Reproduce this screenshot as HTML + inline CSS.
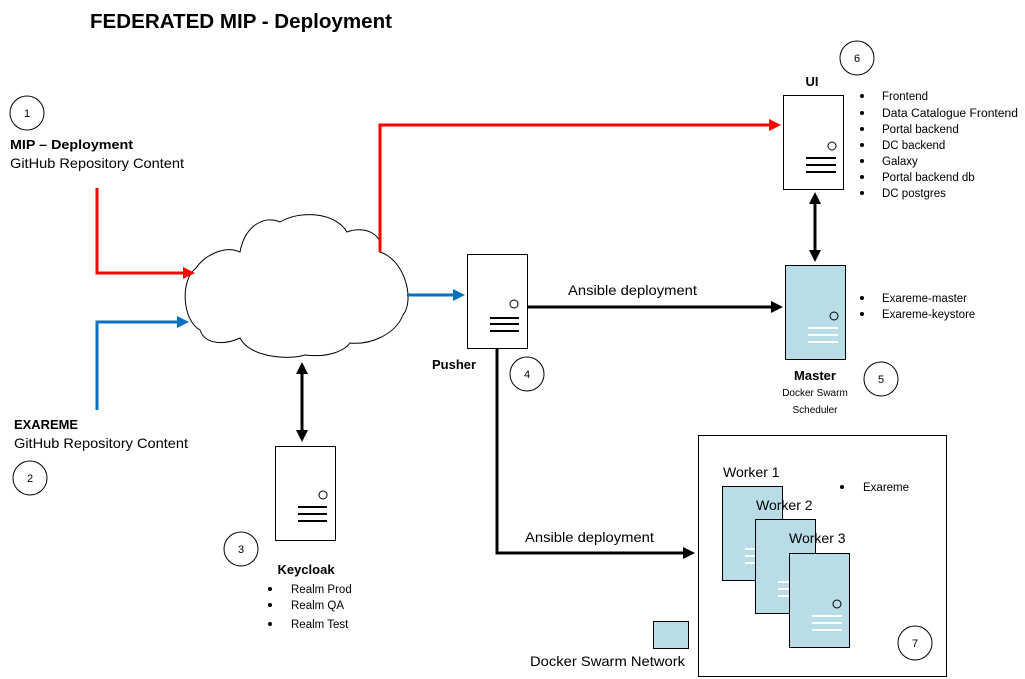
<!DOCTYPE html>
<html><head><style>body{margin:0;background:#fff}svg{display:block}text{font-family:"Liberation Sans",sans-serif;fill:#000}</style></head>
<body>
<svg width="1025" height="679" viewBox="0 0 1025 679" xmlns="http://www.w3.org/2000/svg">
<defs>
<marker id="ar" markerWidth="4" markerHeight="4" refX="3" refY="2" orient="auto" markerUnits="strokeWidth"><path d="M0,0 L4,2 L0,4 z" fill="red"/></marker>
<marker id="ab" markerWidth="4" markerHeight="4" refX="3" refY="2" orient="auto" markerUnits="strokeWidth"><path d="M0,0 L4,2 L0,4 z" fill="#0070c0"/></marker>
<marker id="ak" markerWidth="4" markerHeight="4" refX="3" refY="2" orient="auto" markerUnits="strokeWidth"><path d="M0,0 L4,2 L0,4 z" fill="#000"/></marker>
<marker id="aks" markerWidth="4" markerHeight="4" refX="1" refY="2" orient="auto" markerUnits="strokeWidth"><path d="M4,0 L0,2 L4,4 z" fill="#000"/></marker>
</defs>
<text x="90" y="28" font-size="20" font-weight="bold" textLength="302" lengthAdjust="spacingAndGlyphs">FEDERATED MIP - Deployment</text>

<g fill="none" stroke="#000" stroke-width="1">
<circle cx="27" cy="113" r="17"/><circle cx="30" cy="478" r="17"/><circle cx="241" cy="549" r="17"/>
<circle cx="527" cy="374" r="17"/><circle cx="881" cy="379" r="17"/><circle cx="857" cy="58" r="17"/><circle cx="915" cy="643" r="17"/>
</g>
<g font-size="11" text-anchor="middle"><text x="27" y="117">1</text><text x="30" y="482">2</text><text x="241" y="553">3</text><text x="527" y="378">4</text><text x="881" y="383">5</text><text x="857" y="62">6</text><text x="915" y="647">7</text></g>

<text x="10" y="149" font-size="13" font-weight="bold" textLength="123" lengthAdjust="spacingAndGlyphs">MIP – Deployment</text>
<text x="10" y="168" font-size="14" textLength="174" lengthAdjust="spacingAndGlyphs">GitHub Repository Content</text>
<text x="14" y="429" font-size="13" font-weight="bold" textLength="64" lengthAdjust="spacingAndGlyphs">EXAREME</text>
<text x="14" y="448" font-size="14" textLength="174" lengthAdjust="spacingAndGlyphs">GitHub Repository Content</text>

<!-- cloud -->
<path d="M196,268 C180,280 182,320 200,330 C205,345 225,345 240,338 C250,358 290,360 305,355 C330,358 345,350 350,343 C370,345 395,335 403,315 C415,300 405,260 380,252 C385,235 365,225 347,232 C335,212 300,210 280,222 C265,215 245,225 240,252 C225,245 205,255 196,268 Z" fill="#fff" stroke="#000" stroke-width="1"/>

<g fill="none" stroke-width="3">
<polyline points="97,188 97,273 192,273" stroke="red" marker-end="url(#ar)"/>
<polyline points="380,252 380,125 778,125" stroke="red" marker-end="url(#ar)"/>
<polyline points="97,410 97,322 186,322" stroke="#0070c0" marker-end="url(#ab)"/>
<line x1="407" y1="295" x2="462" y2="295" stroke="#0070c0" marker-end="url(#ab)"/>
<line x1="527" y1="307" x2="780" y2="307" stroke="#000" marker-end="url(#ak)"/>
<polyline points="497,348 497,553 692,553" stroke="#000" marker-end="url(#ak)"/>
<line x1="815" y1="195" x2="815" y2="259" stroke="#000" marker-end="url(#ak)" marker-start="url(#aks)"/>
<line x1="302" y1="365" x2="302" y2="439" stroke="#000" marker-end="url(#ak)" marker-start="url(#aks)"/>
</g>
<text x="568" y="295" font-size="14" textLength="129" lengthAdjust="spacingAndGlyphs">Ansible deployment</text>
<text x="525" y="542" font-size="14" textLength="129" lengthAdjust="spacingAndGlyphs">Ansible deployment</text>

<g stroke="#000" fill="#fff">
<rect x="467.5" y="254.5" width="60" height="94"/>
<rect x="783.5" y="95.5" width="60" height="94"/>
<rect x="275.5" y="446.5" width="60" height="94"/>
</g>
<g fill="none" stroke="#000"><circle cx="514" cy="304" r="4"/><circle cx="832" cy="146" r="4"/><circle cx="323" cy="495" r="4"/></g>
<g stroke="#000" stroke-width="2">
<line x1="490" y1="318" x2="519" y2="318"/><line x1="490" y1="324" x2="519" y2="324"/><line x1="490" y1="331" x2="519" y2="331"/>
<line x1="806" y1="158" x2="836" y2="158"/><line x1="806" y1="165" x2="836" y2="165"/><line x1="806" y1="172" x2="836" y2="172"/>
<line x1="298" y1="507" x2="327" y2="507"/><line x1="298" y1="514" x2="327" y2="514"/><line x1="298" y1="521" x2="327" y2="521"/>
</g>
<text x="432" y="369" font-size="13" font-weight="bold">Pusher</text>
<text x="812" y="86" font-size="13" font-weight="bold" text-anchor="middle">UI</text>
<text x="306" y="574" font-size="13" font-weight="bold" text-anchor="middle">Keycloak</text>

<rect x="785.5" y="265.5" width="60" height="94" fill="#b8dde6" stroke="#000"/>
<circle cx="834" cy="316" r="4" fill="none" stroke="#000"/>
<g stroke="#fff" stroke-width="2"><line x1="808" y1="328" x2="838" y2="328"/><line x1="808" y1="335" x2="838" y2="335"/><line x1="808" y1="342" x2="838" y2="342"/></g>
<text x="815" y="380" font-size="13" font-weight="bold" text-anchor="middle">Master</text>
<text x="815" y="396" font-size="10" text-anchor="middle">Docker Swarm</text>
<text x="815" y="413" font-size="10" text-anchor="middle">Scheduler</text>

<g font-size="11.5">
<circle cx="862" cy="96" r="2"/><text x="882" y="100">Frontend</text>
<circle cx="862" cy="113" r="2"/><text x="882" y="117" textLength="136" lengthAdjust="spacingAndGlyphs">Data Catalogue Frontend</text>
<circle cx="862" cy="129" r="2"/><text x="882" y="133">Portal backend</text>
<circle cx="862" cy="145" r="2"/><text x="882" y="149">DC backend</text>
<circle cx="862" cy="161" r="2"/><text x="882" y="165">Galaxy</text>
<circle cx="862" cy="177" r="2"/><text x="882" y="181">Portal backend db</text>
<circle cx="862" cy="193" r="2"/><text x="882" y="197">DC postgres</text>
<circle cx="862" cy="298" r="2"/><text x="882" y="302">Exareme-master</text>
<circle cx="862" cy="314" r="2"/><text x="882" y="318">Exareme-keystore</text>
<circle cx="270" cy="589" r="2"/><text x="291" y="593">Realm Prod</text>
<circle cx="270" cy="605" r="2"/><text x="291" y="609">Realm QA</text>
<circle cx="270" cy="624" r="2"/><text x="291" y="628">Realm Test</text>
<circle cx="842" cy="487" r="2"/><text x="863" y="491">Exareme</text>
</g>

<rect x="698.5" y="435.5" width="248" height="241" fill="none" stroke="#000"/>
<text x="723" y="477" font-size="14">Worker 1</text>
<rect x="722.5" y="486.5" width="60" height="94" fill="#b8dde6" stroke="#000"/>
<g stroke="#fff" stroke-width="2"><line x1="745" y1="549" x2="760" y2="549"/><line x1="745" y1="556" x2="760" y2="556"/><line x1="745" y1="563" x2="760" y2="563"/></g>
<text x="756" y="510" font-size="14">Worker 2</text>
<rect x="755.5" y="519.5" width="60" height="94" fill="#b8dde6" stroke="#000"/>
<g stroke="#fff" stroke-width="2"><line x1="778" y1="582" x2="793" y2="582"/><line x1="778" y1="589" x2="793" y2="589"/><line x1="778" y1="596" x2="793" y2="596"/></g>
<text x="789" y="543" font-size="14">Worker 3</text>
<rect x="789.5" y="553.5" width="60" height="94" fill="#b8dde6" stroke="#000"/>
<circle cx="837" cy="604" r="4" fill="none" stroke="#000"/>
<g stroke="#fff" stroke-width="2"><line x1="812" y1="616" x2="842" y2="616"/><line x1="812" y1="623" x2="842" y2="623"/><line x1="812" y1="630" x2="842" y2="630"/></g>

<rect x="653.5" y="621.5" width="35" height="27" fill="#b8dde6" stroke="#000"/>
<text x="530" y="666" font-size="14" textLength="155" lengthAdjust="spacingAndGlyphs">Docker Swarm Network</text>
</svg>
</body></html>
